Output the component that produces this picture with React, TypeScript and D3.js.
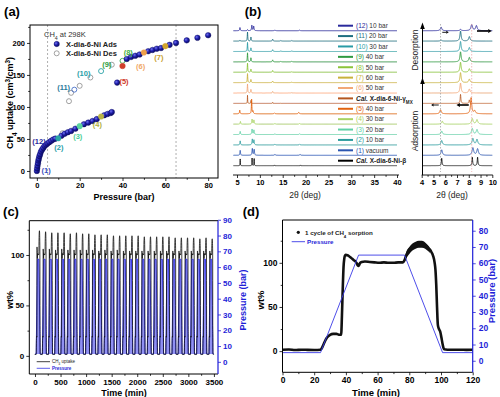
import { useEffect, useRef } from 'react';
import * as d3 from 'd3';

const FONT = '"Liberation Sans", Arial, Helvetica, sans-serif';
const AX_BLUE = '#1e1ed8';

// ---------- (a) CH4 isotherm, 298 K ----------
const ADS_P = [0, 0.15, 0.3, 0.5, 0.7, 0.9, 1.2, 1.5, 1.9, 2.4, 3, 3.6, 4.3, 5, 5.8, 6.7, 7.6, 8.6,
  11.5, 13, 14.5, 16, 18, 22, 24, 26, 28, 31.5, 33, 34.5, 35, 37.5,
  42, 44, 46, 48, 52, 54, 56, 58, 62, 65, 70, 75, 80];
const ADS_V = [0, 4, 8, 12, 16, 19, 23, 26, 30, 33, 36, 39, 41, 43, 45, 47, 49, 50.5,
  55, 58, 60.5, 62.5, 66, 73, 75.5, 78, 81, 87, 89, 90.5, 92, 138,
  175, 178, 180, 182, 187, 189, 191, 192, 197, 200, 204, 208, 212];
const ADS_HL_P = [10, 20, 30, 40, 50, 60];
const ADS_HL_V = [51, 70, 85, 164, 185, 195];
const ADS_HL_COLOR = ['#2ba5a5', '#5ad3a0', '#b9b445', '#cf3f2c', '#eea04a', '#d2a52c'];
const DES_P = [35, 25, 20, 16, 15, 12];
const DES_V = [166, 146, 133, 122, 109, 59];
const DES_HL_P = [40, 30, 17.5];
const DES_HL_V = [172, 156, 127];
const DES_HL_COLOR = ['#3aa84a', '#2aa3a8', '#4a70c8'];
const A_TAGS = ['(1)', '(12)', '(2)', '(3)', '(4)', '(5)', '(6)', '(7)', '(8)', '(9)', '(10)', '(11)'];
const A_TAG_P = [4.3, 1, 10.3, 19.1, 28.3, 40.7, 48.5, 57, 42.7, 32.7, 21.9, 12.5];
const A_TAG_V = [1.5, 46, 36.4, 53.6, 72, 139.5, 164, 177, 185, 167, 152.7, 130.8];
const A_TAG_COLOR = ['#3a4fc0', '#2a2a9a', '#2aa0a8', '#4ccf9a', '#b0b040', '#d03a2a', '#f0a868',
  '#c8a030', '#40b040', '#30a040', '#2aa0a8', '#2a7a9a'];
const A_GUIDES = [5, 65];
const A_X_TICKS = [0, 20, 40, 60, 80];
const A_X_MINOR = [10, 30, 50, 70];
const A_Y_TICKS = [0, 50, 100, 150, 200];
const A_Y_MINOR = [25, 75, 125, 175, 225];

// ---------- (b) PXRD ----------
const XRD_NUM = ['(12)', '(11)', '(10)', '(9)', '(8)', '(7)', '(6)', '', '(5)', '(4)', '(3)', '(2)', '(1)', ''];
const XRD_TEXT = [' 10 bar', ' 20 bar', ' 30 bar', ' 40 bar', ' 50 bar', ' 60 bar', ' 50 bar', 'γ',
  ' 40 bar', ' 30 bar', ' 20 bar', ' 10 bar', ' vacuum', 'β'];
const XRD_COLORS = ['#2a2a9c', '#1e6e80', '#2a9ca6', '#2e9a40', '#8cc43a', '#c9b23c', '#f2a878', '#b5561e',
  '#e2620f', '#a8d262', '#5fd0a5', '#2a9c9e', '#2a55b0', '#000000'];
// [2θ, height, half width]
const XRD_PEAKS: [number, number, number][][] = [
  [[5.65, 3.5, 0.07], [7.3, 1.2, 0.07], [8.25, 6, 0.08], [8.65, 5, 0.08], [13.3, 0.8, 0.1], [18.7, 0.6, 0.1]],
  [[5.65, 1, 0.07], [7.3, 10, 0.06], [8.05, 4.5, 0.07], [12.8, 2.2, 0.08], [14.6, 0.7, 0.1], [17, 0.7, 0.1]],
  [[7.3, 10, 0.06], [8.05, 4, 0.07], [12.8, 2, 0.08], [14.6, 0.6, 0.1], [17, 0.6, 0.1]],
  [[7.3, 10, 0.06], [8.05, 4.5, 0.07], [12.8, 2.2, 0.08], [14.6, 0.6, 0.1], [17, 0.7, 0.1]],
  [[7.3, 10, 0.06], [8.05, 3.5, 0.07], [12.8, 2, 0.08], [17, 0.6, 0.1]],
  [[7.3, 10, 0.06], [8.05, 3.5, 0.07], [12.8, 1.8, 0.08], [17, 0.6, 0.1]],
  [[7.3, 10, 0.06], [8.05, 4, 0.07], [12.8, 1.8, 0.08], [17, 0.5, 0.1]],
  [[7.3, 9, 0.035], [8.05, 3.5, 0.035], [12.8, 1.2, 0.04], [14.6, 0.4, 0.04]],
  [[5.6, 4, 0.07], [8.2, 16, 0.06], [8.5, 3, 0.08], [13.2, 1, 0.1], [18.5, 1.6, 0.1]],
  [[5.75, 3, 0.07], [8.3, 5.5, 0.08], [8.7, 4.5, 0.08], [13.3, 0.8, 0.1], [18.7, 0.8, 0.1]],
  [[5.7, 3.5, 0.07], [8.3, 6, 0.08], [8.7, 5, 0.08], [13.3, 0.8, 0.1], [18.7, 0.8, 0.1]],
  [[5.7, 4.5, 0.07], [8.35, 6.5, 0.08], [8.7, 5.5, 0.08], [13.3, 0.9, 0.1], [18.7, 0.9, 0.1]],
  [[5.7, 5.5, 0.07], [8.35, 7.5, 0.08], [8.75, 6.5, 0.08], [13.3, 1, 0.1], [18.8, 1, 0.1]],
  [[5.7, 7.5, 0.035], [8.3, 8.5, 0.035], [8.75, 8.5, 0.035], [13.2, 0.8, 0.04], [18.9, 0.8, 0.04]],
];
const B_L_TICKS = [5, 10, 15, 20, 25, 30, 35, 40];
const B_L_MINOR = [7.5, 12.5, 17.5, 22.5, 27.5, 32.5, 37.5];
const B_R_TICKS = [4, 5, 6, 7, 8, 9, 10];
const B_R_MINOR = [4.5, 5.5, 6.5, 7.5, 8.5, 9.5];
const B_R_GUIDES = [5.6, 8.25];

// ---------- (c) 29 cycles ----------
const C_PERIOD = 120.7;
const C_PEAK = [124, 123, 122, 122, 122, 121, 122, 121, 121, 120, 120, 120, 119, 119, 119, 119, 119, 118,
  118, 118, 118, 118, 117, 117, 117, 117, 116, 117, 116];
const C_SHOULDER = [108, 106, 106, 105, 106, 105, 105, 105, 105, 105, 104, 105, 104, 105, 104, 104, 104, 104,
  104, 104, 104, 104, 104, 104, 104, 104, 104, 104, 104];
const C_X_TICKS = [0, 500, 1000, 1500, 2000, 2500, 3000, 3500];
const C_X_MINOR = [250, 750, 1250, 1750, 2250, 2750, 3250];
const C_L_TICKS = [0, 50, 100];
const C_L_MINOR = [25, 75, 125];
const C_R_TICKS = [0, 10, 20, 30, 40, 50, 60, 70, 80, 90];

// ---------- (d) one cycle ----------
const D_UPTAKE: [number, number][] = [
  [0, 1.5], [4, 1.8], [8, 1.2], [12, 1.6], [16, 1.4], [20, 1.3], [24, 1.5], [25, 4], [26, 8], [27, 12],
  [28, 15], [29, 17], [30, 18.5], [32, 19.5], [34, 19.5], [36, 18.5], [37, 18.5], [37.5, 40], [38, 70],
  [38.5, 95], [39, 105], [39.5, 108.5], [40, 109], [41, 108.5], [42, 107.5], [43, 106], [44, 104.5],
  [45, 103], [46, 101.5], [47, 99], [47.5, 97], [48, 96.5], [48.5, 98], [49, 100], [50, 101], [52, 101.5],
  [55, 101], [58, 100.5], [61, 100], [64, 100.5], [67, 100], [70, 100], [73, 100.5], [76, 100.5],
  [77, 103], [78, 108], [79, 112], [80, 115], [82, 118], [84, 120], [86, 121], [88, 121], [90, 120],
  [91, 119], [92, 117], [93, 115], [94, 112], [95, 108], [96, 100], [96.5, 92], [97, 75], [97.5, 50],
  [98, 30], [98.5, 26], [99, 24], [99.5, 22], [100, 18], [100.5, 13], [101, 8], [101.5, 4], [102, 2],
  [104, 1.5], [108, 1.5], [112, 1.6], [116, 1.4], [120, 1.5],
];
const D_BAND: [number, number, number][] = [
  [77, 101, 105], [78, 105, 112], [80, 110, 118], [82, 114, 122], [84, 116, 124], [86, 117, 125],
  [88, 117, 125], [90, 116, 123], [92, 113, 119], [93, 111, 116],
];
const D_PRESSURE: [number, number][] = [[0, 5], [24, 5], [48, 65], [77, 65], [101, 5], [120, 5]];
const D_X_TICKS = [0, 20, 40, 60, 80, 100, 120];
const D_X_MINOR = [10, 30, 50, 70, 90, 110];
const D_L_TICKS = [0, 50, 100];
const D_L_MINOR = [25, 75, 125];
const D_R_TICKS = [0, 10, 20, 30, 40, 50, 60, 70, 80];

type G = d3.Selection<any, unknown, null, undefined>;

function ticks(parent: G, axis: any, tr: string, color: string, fs: number) {
  const g = parent.append('g').attr('transform', tr).call(axis);
  g.select('.domain').remove();
  g.attr('font-size', fs).attr('font-family', FONT);
  g.selectAll('line').attr('stroke', color).attr('stroke-width', 0.8);
  g.selectAll('text').attr('fill', color).attr('font-weight', 'bold');
  return g;
}

function label(parent: G, x: number, y: number, parts: [string, string?][], opts: any = {}) {
  const t = parent.append('text')
    .attr('x', x).attr('y', y)
    .attr('text-anchor', opts.anchor ?? 'middle')
    .attr('font-size', opts.size ?? 9)
    .attr('font-weight', opts.weight ?? 'bold')
    .attr('font-family', FONT)
    .attr('fill', opts.color ?? '#000');
  if (opts.rotate) t.attr('transform', `rotate(-90,${x},${y})`);
  parts.forEach(([s, kind]) => {
    const sp = t.append('tspan').text(s);
    if (kind === 'sub') sp.attr('baseline-shift', 'sub').attr('font-size', '70%');
    if (kind === 'sup') sp.attr('baseline-shift', 'super').attr('font-size', '70%');
    if (kind === 'it') sp.attr('font-style', 'italic');
  });
  return t;
}

function drawA(svg: G) {
  const xA = d3.scaleLinear().domain([-3.2, 84.6]).range([30, 218]);
  const yA = d3.scaleLinear().domain([-11, 228]).range([178, 25]);
  const a = svg.append('g');
  A_GUIDES.forEach(p => a.append('line')
    .attr('x1', xA(p)).attr('x2', xA(p)).attr('y1', 25).attr('y2', 178)
    .attr('stroke', '#9a9a9a').attr('stroke-width', 0.8).attr('stroke-dasharray', '2,2'));

  ticks(a, d3.axisBottom(xA).tickValues(A_X_TICKS).tickSize(3).tickPadding(2).tickFormat(d3.format('d')), 'translate(0,178)', '#000', 7.5);
  ticks(a, d3.axisBottom(xA).tickValues(A_X_MINOR).tickSize(1.8).tickFormat(() => ''), 'translate(0,178)', '#000', 7.5);
  ticks(a, d3.axisLeft(yA).tickValues(A_Y_TICKS).tickSize(3).tickPadding(2).tickFormat(d3.format('d')), 'translate(30,0)', '#000', 7.5);
  ticks(a, d3.axisLeft(yA).tickValues(A_Y_MINOR).tickSize(1.8).tickFormat(() => ''), 'translate(30,0)', '#000', 7.5);
  a.append('rect').attr('x', 30).attr('y', 25).attr('width', 188).attr('height', 153)
    .attr('fill', 'none').attr('stroke', '#000').attr('stroke-width', 1);

  // desorption (open)
  a.selectAll('circle.des').data(DES_P).join('circle')
    .attr('cx', d => xA(d)).attr('cy', (_, i) => yA(DES_V[i])).attr('r', 2.5)
    .attr('fill', 'none').attr('stroke', '#8a8a8a').attr('stroke-width', 0.8);
  a.selectAll('circle.desh').data(DES_HL_P).join('circle')
    .attr('cx', d => xA(d)).attr('cy', (_, i) => yA(DES_HL_V[i])).attr('r', 2.5)
    .attr('fill', 'none').attr('stroke', (_, i) => DES_HL_COLOR[i]).attr('stroke-width', 0.9);
  // adsorption (filled)
  a.selectAll('circle.ads').data(ADS_P).join('circle')
    .attr('cx', d => xA(d)).attr('cy', (_, i) => yA(ADS_V[i])).attr('r', 2.8)
    .attr('fill', 'url(#adsGrad)').attr('stroke', '#10106a').attr('stroke-width', 0.4);
  a.selectAll('circle.adsh').data(ADS_HL_P).join('circle')
    .attr('cx', d => xA(d)).attr('cy', (_, i) => yA(ADS_HL_V[i])).attr('r', 2.8)
    .attr('fill', (_, i) => ADS_HL_COLOR[i]).attr('stroke', (_, i) => ADS_HL_COLOR[i]).attr('stroke-width', 0.4);

  A_TAGS.forEach((t, i) => a.append('text')
    .attr('x', xA(A_TAG_P[i])).attr('y', yA(A_TAG_V[i])).attr('dy', '0.35em')
    .attr('text-anchor', 'middle').attr('font-size', 7.5).attr('font-weight', 'bold')
    .attr('font-family', FONT).attr('fill', A_TAG_COLOR[i]).text(t));

  // legend
  label(a, 44, 37, [['CH'], ['4', 'sub'], [' at 298K']], { anchor: 'start', size: 7.5, weight: 'normal', color: '#333' });
  a.append('circle').attr('cx', 56.7).attr('cy', 44).attr('r', 2.7).attr('fill', 'url(#adsGrad)').attr('stroke', '#10106a').attr('stroke-width', 0.4);
  a.append('circle').attr('cx', 56.7).attr('cy', 53.3).attr('r', 2.5).attr('fill', 'none').attr('stroke', '#8a8a8a').attr('stroke-width', 0.8);
  label(a, 66, 46.7, [['X-dia-6-Ni Ads']], { anchor: 'start', size: 7.5, color: '#222' });
  label(a, 66, 56, [['X-dia-6-Ni Des']], { anchor: 'start', size: 7.5, color: '#222' });

  label(a, 124, 199.5, [['Pressure (bar)']], { size: 9 });
  label(a, 12.5, 103, [['CH'], ['4', 'sub'], [' uptake (cm'], ['3', 'sup'], ['/cm'], ['3', 'sup'], [')']], { size: 9, rotate: true });
  label(a, 12, 16, [['(a)']], { size: 13 });
}

function xrdLine(peaks: [number, number, number][], from: number, to: number, step: number) {
  return d3.range(from, to + step / 2, step).map(x => {
    let y = 0;
    peaks.forEach(([p, h, w]) => { y += h / (1 + ((x - p) / w) ** 2); });
    return [x, y] as [number, number];
  });
}

function drawB(svg: G) {
  const b = svg.append('g');
  const yBase = d3.scalePoint<number>().domain(d3.range(XRD_PEAKS.length)).range([30.7, 165.7]);
  const xL = d3.scaleLinear().domain([5, 40]).range([237, 397]);
  const xR = d3.scaleLinear().domain([4, 10]).range([421.7, 492.3]);
  const hL = d3.scaleLinear().domain([0, 10]).range([0, 9]);
  const hR = d3.scaleLinear().domain([0, 10]).range([0, 10]);

  XRD_PEAKS.forEach((pk, i) => {
    const base = yBase(i)!;
    const calc = XRD_NUM[i] === '';
    const sw = calc ? 0.8 : 0.9;
    const lineL = d3.line<[number, number]>().x(d => xL(d[0])).y(d => base - hL(d[1]));
    b.append('path').attr('d', lineL(xrdLine(pk, 4.2, 40, 0.02))!)
      .attr('fill', 'none').attr('stroke', XRD_COLORS[i]).attr('stroke-width', sw);
    const lineR = d3.line<[number, number]>().x(d => xR(d[0])).y(d => base - hR(d[1]));
    b.append('path').attr('d', lineR(xrdLine(pk, 4.08, 10, 0.01))!)
      .attr('fill', 'none').attr('stroke', XRD_COLORS[i]).attr('stroke-width', sw);

    // legend row
    const ly = base - 5;
    b.append('line').attr('x1', 338).attr('x2', 353).attr('y1', ly).attr('y2', ly)
      .attr('stroke', XRD_COLORS[i]).attr('stroke-width', 2);
    if (calc) {
      const t = b.append('text').attr('x', 356).attr('y', ly + 2.3).attr('font-size', 6.5)
        .attr('font-family', FONT).attr('font-weight', 'bold').attr('fill', '#222');
      t.append('tspan').attr('font-style', 'italic').text('Cal.');
      t.append('tspan').text(' X-dia-6-Ni-' + XRD_TEXT[i]);
      if (XRD_TEXT[i] === 'γ') t.append('tspan').attr('baseline-shift', 'sub').attr('font-size', '70%').text('MX');
    } else {
      const t = b.append('text').attr('x', 356).attr('y', ly + 2.3).attr('font-size', 6.5)
        .attr('font-family', FONT).attr('fill', '#333');
      t.append('tspan').attr('fill', XRD_COLORS[i]).text(XRD_NUM[i]);
      t.append('tspan').text(XRD_TEXT[i]);
    }
  });

  // right-panel guides
  b.append('line').attr('x1', xR(B_R_GUIDES[0])).attr('x2', xR(B_R_GUIDES[0])).attr('y1', 24).attr('y2', 172)
    .attr('stroke', '#9a9a9a').attr('stroke-width', 0.7).attr('stroke-dasharray', '1.5,1.5');
  b.append('line').attr('x1', xR(B_R_GUIDES[1])).attr('x2', xR(B_R_GUIDES[1])).attr('y1', 24).attr('y2', 172)
    .attr('stroke', '#e6a0a0').attr('stroke-width', 0.7).attr('stroke-dasharray', '1.5,1.5');

  // axes
  b.append('line').attr('x1', 233).attr('x2', 399).attr('y1', 175).attr('y2', 175).attr('stroke', '#000').attr('stroke-width', 0.9);
  ticks(b, d3.axisBottom(xL).tickValues(B_L_TICKS).tickSize(3).tickPadding(2).tickFormat(d3.format('d')), 'translate(0,175)', '#000', 7.5);
  ticks(b, d3.axisBottom(xL).tickValues(B_L_MINOR).tickSize(1.8).tickFormat(() => ''), 'translate(0,175)', '#000', 7.5);
  b.append('line').attr('x1', 421.7).attr('x2', 492.8).attr('y1', 175).attr('y2', 175).attr('stroke', '#000').attr('stroke-width', 0.9);
  ticks(b, d3.axisBottom(xR).tickValues(B_R_TICKS).tickSize(3).tickPadding(2).tickFormat(d3.format('d')), 'translate(0,175)', '#000', 7.5);
  ticks(b, d3.axisBottom(xR).tickValues(B_R_MINOR).tickSize(1.8).tickFormat(() => ''), 'translate(0,175)', '#000', 7.5);

  // vertical arrow axis (adsorption / desorption)
  const ax = 422.5;
  b.append('line').attr('x1', ax).attr('x2', ax).attr('y1', 175).attr('y2', 82).attr('stroke', '#000').attr('stroke-width', 1);
  b.append('path').attr('d', `M${ax - 2.3},84 L${ax},77.5 L${ax + 2.3},84 Z`).attr('fill', '#000');
  b.append('line').attr('x1', ax).attr('x2', ax).attr('y1', 80).attr('y2', 27).attr('stroke', '#000').attr('stroke-width', 1);
  b.append('path').attr('d', `M${ax - 2.3},29 L${ax},22.5 L${ax + 2.3},29 Z`).attr('fill', '#000');
  label(b, 417.5, 50, [['Desorption']], { rotate: true, size: 8.5, weight: 'normal', color: '#222' });
  label(b, 417.5, 131, [['Adsorption']], { rotate: true, size: 8.5, weight: 'normal', color: '#222' });

  // shift arrows
  const arrow = (x1: number, x2: number, y: number, w: number, head: number) => {
    const dir = Math.sign(x2 - x1);
    const xe = xR(x2), xs = xR(x1);
    b.append('line').attr('x1', xs).attr('x2', xe - dir * head).attr('y1', y).attr('y2', y)
      .attr('stroke', '#000').attr('stroke-width', w);
    b.append('path').attr('d', `M${xe},${y} L${xe - dir * head},${y - head * 0.6} L${xe - dir * head},${y + head * 0.6} Z`).attr('fill', '#000');
  };
  arrow(5.75, 6.3, 32.3, 0.9, 2.5);
  arrow(8.7, 9.95, 31, 1.6, 3.5);
  arrow(5.45, 4.8, 105, 0.9, 2.5);
  arrow(8.0, 6.95, 105, 1.6, 3.5);

  label(b, 305, 198, [['2θ (deg)']], { size: 8.5, weight: 'normal', color: '#222' });
  label(b, 452, 198, [['2θ (deg)']], { size: 8.5, weight: 'normal', color: '#222' });
  label(b, 253, 16, [['(b)']], { size: 13 });
}

function drawC(svg: G) {
  const c = svg.append('g');
  const x = d3.scaleLinear().domain([-111, 3580]).range([29.3, 218]);
  const yL = d3.scaleLinear().domain([-18, 134]).range([374, 220.7]);
  const yR = d3.scaleLinear().domain([-7.7, 89.4]).range([374, 220.7]);

  const pressure: [number, number][] = [];
  const uptake: [number, number][] = [];
  C_PEAK.forEach((pk, k) => {
    const t0 = k * C_PERIOD;
    D_PRESSURE.forEach(([t, p]) => pressure.push([t0 + t, p]));
    D_UPTAKE.forEach(([t, w]) => {
      let v = w;
      if (t >= 76 && t <= 97.5 && w > 100) v = 100 + (w - 100) * (pk - 100) / 21;
      if (t >= 38 && t <= 48 && w > 100) v = 100 + (w - 100) * (C_SHOULDER[k] - 100) / 9;
      uptake.push([t0 + t, v]);
    });
  });
  c.append('path')
    .attr('d', d3.area<[number, number]>().x(d => x(d[0])).y0(yR(5)).y1(d => yR(d[1]))(pressure)!)
    .attr('fill', '#7c7cf0').attr('opacity', 0.85);
  c.append('path')
    .attr('d', d3.line<[number, number]>().x(d => x(d[0])).y(d => yR(d[1]))(pressure)!)
    .attr('fill', 'none').attr('stroke', '#2a2ae6').attr('stroke-width', 0.9);
  c.append('path')
    .attr('d', d3.line<[number, number]>().x(d => x(d[0])).y(d => yL(d[1]))(uptake)!)
    .attr('fill', 'none').attr('stroke', '#111').attr('stroke-width', 0.8);

  ticks(c, d3.axisBottom(x).tickValues(C_X_TICKS).tickSize(3).tickPadding(2).tickFormat(d3.format('d')), 'translate(0,374)', '#000', 8);
  ticks(c, d3.axisBottom(x).tickValues(C_X_MINOR).tickSize(1.8).tickFormat(() => ''), 'translate(0,374)', '#000', 8);
  ticks(c, d3.axisLeft(yL).tickValues(C_L_TICKS).tickSize(3).tickPadding(2).tickFormat(d3.format('d')), 'translate(29.3,0)', '#000', 8);
  ticks(c, d3.axisLeft(yL).tickValues(C_L_MINOR).tickSize(1.8).tickFormat(() => ''), 'translate(29.3,0)', '#000', 8);
  ticks(c, d3.axisRight(yR).tickValues(C_R_TICKS).tickSize(3).tickPadding(2).tickFormat(d3.format('d')), 'translate(218,0)', AX_BLUE, 8);
  c.append('path').attr('d', 'M218,220.7 L29.3,220.7 L29.3,374 L218,374')
    .attr('fill', 'none').attr('stroke', '#000').attr('stroke-width', 1);
  c.append('line').attr('x1', 218).attr('x2', 218).attr('y1', 220.7).attr('y2', 374).attr('stroke', AX_BLUE).attr('stroke-width', 1.2);

  // legend
  c.append('line').attr('x1', 36.7).attr('x2', 50).attr('y1', 361.7).attr('y2', 361.7).attr('stroke', '#111').attr('stroke-width', 0.8);
  c.append('line').attr('x1', 36.7).attr('x2', 50).attr('y1', 368.3).attr('y2', 368.3).attr('stroke', '#3535e6').attr('stroke-width', 0.8);
  label(c, 52, 363.3, [['CH'], ['4', 'sub'], [' uptake']], { anchor: 'start', size: 4.5, weight: 'normal', color: '#222' });
  label(c, 52, 369.9, [['Pressure']], { anchor: 'start', size: 4.5, color: AX_BLUE });

  label(c, 124, 395.5, [['Time (min)']], { size: 9 });
  label(c, 12.5, 300, [['wt%']], { size: 9, rotate: true });
  label(c, 246, 300, [['Pressure (bar)']], { size: 9, rotate: true, color: AX_BLUE });
  label(c, 11, 216, [['(c)']], { size: 13 });
}

function drawD(svg: G) {
  const dG = svg.append('g');
  const x = d3.scaleLinear().domain([0, 120]).range([282.5, 472.7]);
  const yL = d3.scaleLinear().domain([-24, 148.5]).range([372.3, 220]);
  const yR = d3.scaleLinear().domain([-7.1, 86.6]).range([372.3, 220]);

  dG.append('path')
    .attr('d', d3.area<[number, number, number]>().x(d => x(d[0])).y0(d => yL(d[1])).y1(d => yL(d[2])).curve(d3.curveMonotoneX)(D_BAND)!)
    .attr('fill', '#111');
  dG.append('path')
    .attr('d', d3.line<[number, number]>().x(d => x(d[0])).y(d => yL(d[1])).curve(d3.curveMonotoneX)(D_UPTAKE)!)
    .attr('fill', 'none').attr('stroke', '#111').attr('stroke-width', 2.6).attr('stroke-linejoin', 'round');
  dG.append('path')
    .attr('d', d3.line<[number, number]>().x(d => x(d[0])).y(d => yR(d[1]))(D_PRESSURE)!)
    .attr('fill', 'none').attr('stroke', '#3a3ae6').attr('stroke-width', 0.9);

  ticks(dG, d3.axisBottom(x).tickValues(D_X_TICKS).tickSize(3).tickPadding(2).tickFormat(d3.format('d')), 'translate(0,372.3)', '#000', 8.5);
  ticks(dG, d3.axisBottom(x).tickValues(D_X_MINOR).tickSize(1.8).tickFormat(() => ''), 'translate(0,372.3)', '#000', 8.5);
  ticks(dG, d3.axisLeft(yL).tickValues(D_L_TICKS).tickSize(3).tickPadding(2).tickFormat(d3.format('d')), 'translate(282.5,0)', '#000', 8.5);
  ticks(dG, d3.axisLeft(yL).tickValues(D_L_MINOR).tickSize(1.8).tickFormat(() => ''), 'translate(282.5,0)', '#000', 8.5);
  ticks(dG, d3.axisRight(yR).tickValues(D_R_TICKS).tickSize(3).tickPadding(3).tickFormat(d3.format('d')), 'translate(472.7,0)', AX_BLUE, 8.5);
  dG.append('path').attr('d', 'M472.7,220 L282.5,220 L282.5,372.3 L472.7,372.3')
    .attr('fill', 'none').attr('stroke', '#000').attr('stroke-width', 1);
  dG.append('line').attr('x1', 472.7).attr('x2', 472.7).attr('y1', 220).attr('y2', 372.3).attr('stroke', AX_BLUE).attr('stroke-width', 1.2);

  // legend
  dG.append('circle').attr('cx', 298.3).attr('cy', 232.3).attr('r', 1.6).attr('fill', '#111');
  label(dG, 305, 234.5, [['1 cycle of CH'], ['4', 'sub'], [' sorption']], { anchor: 'start', size: 6.2, color: '#222' });
  dG.append('line').attr('x1', 291.7).attr('x2', 305).attr('y1', 241.7).attr('y2', 241.7).attr('stroke', '#3a3ae6').attr('stroke-width', 0.9);
  label(dG, 307, 243.9, [['Pressure']], { anchor: 'start', size: 6.2, color: AX_BLUE });

  label(dG, 376, 395.5, [['Time (min)']], { size: 9.5 });
  label(dG, 264, 300, [['wt%']], { size: 9.5, rotate: true });
  label(dG, 495, 291, [['Pressure (bar)']], { size: 9.5, rotate: true, color: AX_BLUE });
  label(dG, 251, 216, [['(d)']], { size: 13 });
}

export default function App() {
  const ref = useRef<SVGSVGElement>(null);
  useEffect(() => {
    const svg = d3.select(ref.current!) as any;
    svg.selectAll('*').remove();
    const grad = svg.append('defs').append('radialGradient').attr('id', 'adsGrad')
      .attr('cx', '35%').attr('cy', '35%').attr('r', '65%');
    grad.append('stop').attr('offset', '0%').attr('stop-color', '#7070f0');
    grad.append('stop').attr('offset', '55%').attr('stop-color', '#1c1ca8');
    grad.append('stop').attr('offset', '100%').attr('stop-color', '#0e0e66');
    drawA(svg);
    drawB(svg);
    drawC(svg);
    drawD(svg);
  }, []);
  return (
    <div style={{ position: 'fixed', left: 0, top: 0, width: 500, height: 397, background: '#fff' }}>
      <svg ref={ref} width={500} height={397} style={{ display: 'block' }} />
    </div>
  );
}
